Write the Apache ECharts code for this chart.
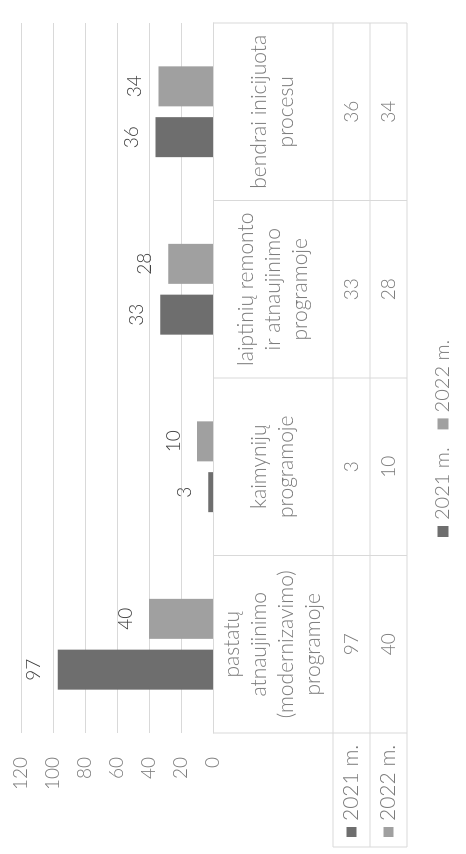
<!DOCTYPE html>
<html><head><meta charset="utf-8">
<script src="https://cdn.jsdelivr.net/npm/echarts@6/dist/echarts.min.js"></script>
<style>
html,body{margin:0;padding:0;background:#fff;overflow:hidden;width:466px;height:854px;}
#wrap{position:absolute;left:0;top:0;width:854px;height:466px;transform-origin:0 0;transform:translate(0,854px) rotate(-90deg);}
#chart{width:854px;height:466px;}
</style></head><body>
<div id="wrap"><div id="chart"></div></div>
<script>
const categories = ['pastatų\natnaujinimo\n(modernizavimo)\nprogramoje', 'kaimynijų\nprogramoje', 'laiptinių remonto\nir atnaujinimo\nprogramoje', 'bendrai inicijuota\nprocesu'];
const seriesNames = ['2021 m.', '2022 m.'];
const values2021 = [97, 3, 33, 36];
const values2022 = [40, 10, 28, 34];
const valueMin = 0, valueMax = 120, valueStep = 20;

const colors = ['#6e6e6e', '#a0a0a0'];
const textGray = '#7c7c7c';
const lineGray = '#d9d9d9';
const FONT = 'Lato, "Open Sans", sans-serif';

const G = {left: 121, right: 23, top: 21, bottom: 253};
const W = 854, H = 466;
const tableTop = H - G.bottom;       // 213
const row1 = 333, row2 = 370, row3 = 407;
const headerLeft = 7;

const chart = echarts.init(document.getElementById('chart'), null, {renderer: 'canvas'});

const labelStyle = {show: true, position: 'top', distance: 14, fontSize: 19, color: '#404040', fontFamily: FONT, fontWeight: 300};

chart.setOption({
  animation: false,
  backgroundColor: '#fff',
  textStyle: {fontFamily: FONT},
  grid: {left: G.left, right: G.right, top: G.top, bottom: G.bottom, containLabel: false, outerBoundsMode: 'none'},
  legend: {
    data: seriesNames, left: 312, top: 428, itemWidth: 11, itemHeight: 11, itemGap: 18,
    icon: 'rect',
    textStyle: {fontSize: 20, color: textGray, fontFamily: FONT, fontWeight: 300, padding: [0,0,0,1]}
  },
  xAxis: {
    type: 'category', data: categories,
    axisLine: {show: true, lineStyle: {color: lineGray}},
    axisTick: {show: false},
    axisLabel: {interval: 0, margin: 60, verticalAlign: 'middle', align: 'center', lineHeight: 27, fontSize: 21, color: textGray, fontFamily: FONT, fontWeight: 300}
  },
  yAxis: {
    type: 'value', min: valueMin, max: valueMax, interval: valueStep,
    axisLine: {show: false}, axisTick: {show: false},
    splitLine: {lineStyle: {color: lineGray}},
    axisLabel: {margin: 24, fontSize: 19, color: textGray, fontFamily: FONT, fontWeight: 300}
  },
  series: [
    {name: seriesNames[0], type: 'bar', data: values2021, barWidth: 40, barGap: '27%', itemStyle: {color: colors[0]}, label: labelStyle},
    {name: seriesNames[1], type: 'bar', data: values2022, barWidth: 40, itemStyle: {color: colors[1]}, label: labelStyle}
  ]
});

// build data table from the chart's own scale
const gridLeft = G.left, gridRight = W - G.right;
const step = (gridRight - gridLeft) / categories.length;
const graphics = [];
function line(x1, y1, x2, y2) {
  graphics.push({type: 'line', silent: true, shape: {x1, y1, x2, y2}, style: {stroke: lineGray, lineWidth: 1}});
}
line(headerLeft, row1, gridRight, row1);
line(headerLeft, row2, gridRight, row2);
line(headerLeft, row3, gridRight, row3);
line(headerLeft, row1, headerLeft, row3);
for (let i = 0; i <= categories.length; i++) {
  const x = gridLeft + i * step;
  line(x, tableTop, x, row3);
}
const rows = [values2021, values2022];
const rowCenters = [(row1 + row2) / 2, (row2 + row3) / 2];
rows.forEach((vals, r) => {
  vals.forEach((v, i) => {
    const x = chart.convertToPixel({xAxisIndex: 0}, i);
    graphics.push({type: 'text', silent: true, x: x, y: rowCenters[r],
      style: {text: String(v), fontSize: 19, fill: textGray, fontFamily: FONT, fontWeight: 300, align: 'center', verticalAlign: 'middle'}});
  });
  graphics.push({type: 'rect', silent: true, shape: {x: 17, y: rowCenters[r] - 5, width: 10, height: 10}, style: {fill: colors[r]}});
  graphics.push({type: 'text', silent: true, x: 33, y: rowCenters[r],
    style: {text: seriesNames[r], fontSize: 21, fill: textGray, fontFamily: FONT, fontWeight: 300, align: 'left', verticalAlign: 'middle'}});
});
chart.setOption({graphic: graphics});
</script>
</body></html>
